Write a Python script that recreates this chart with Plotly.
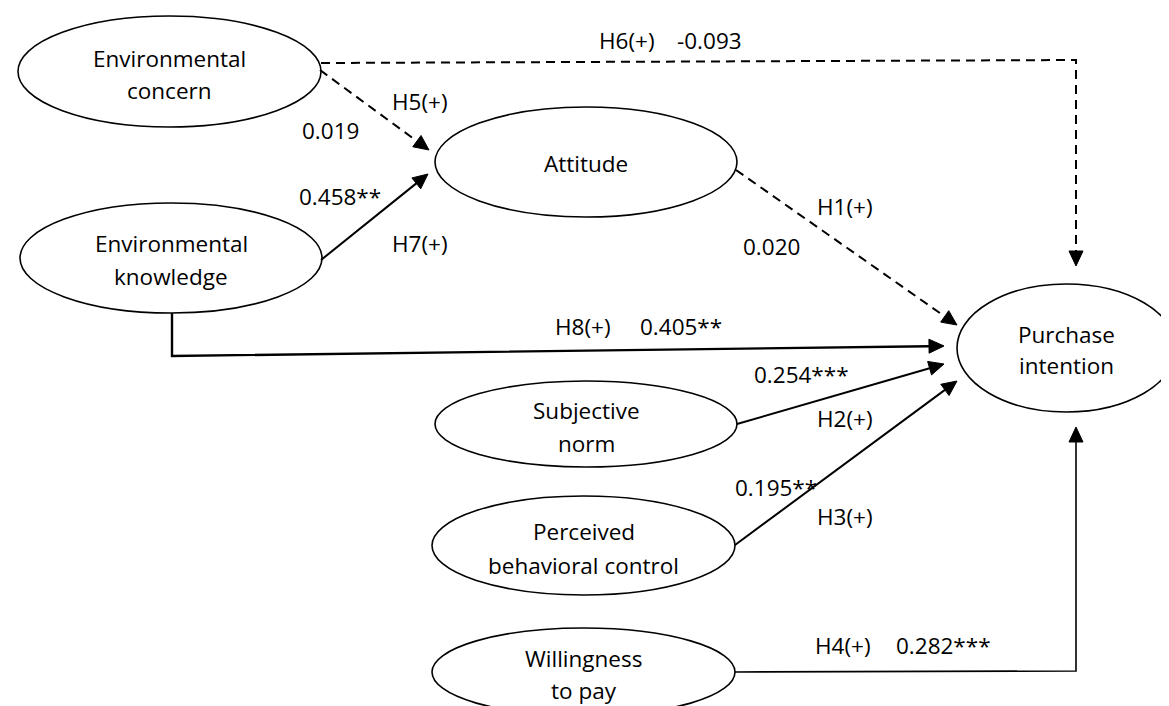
import math
import plotly.graph_objects as go

# ---------------- data ----------------
node_labels = [
    "Environmental\nconcern",
    "Attitude",
    "Environmental\nknowledge",
    "Purchase\nintention",
    "Subjective\nnorm",
    "Perceived\nbehavioral control",
    "Willingness\nto pay",
]
hypotheses = ["H1(+)", "H2(+)", "H3(+)", "H4(+)", "H5(+)", "H6(+)", "H7(+)", "H8(+)"]
coefficients = [0.020, 0.254, 0.195, 0.282, 0.019, -0.093, 0.458, 0.405]
significance = ["", "***", "**", "***", "", "", "**", "**"]

# ---------------- layout (pixel space, y downwards) ----------------
W, H = 1169, 706
node_boxes = [
    (10, 313, 8, 119),
    (427, 729, 99, 209),
    (12, 314, 195, 305),
    (949, 1168, 276, 404),
    (427, 729, 373, 459),
    (424, 727, 488, 587),
    (424, 727, 620, 708),
]
node_text_y = [(50, 82), (155,), (235, 268), (326, 357), (402, 435), (523, 557), (650, 682)]

edge_paths = [
    [(728, 162), (949, 317)],                 # H1
    [(729, 416), (936, 356)],                 # H2
    [(727, 537), (949, 373)],                 # H3
    [(727, 664), (1068, 663), (1068, 419)],   # H4
    [(312, 62), (421, 142)],                  # H5
    [(313, 55), (1068, 52), (1068, 258)],     # H6
    [(313, 252), (420, 166)],                 # H7
    [(164, 305), (164, 348), (936, 338)],     # H8
]
edge_width = [2, 2, 2, 1.6, 2, 2, 2, 2.4]
hyp_pos = [(837, 198), (837, 410), (837, 508), (835, 637), (412, 93), (619, 32), (412, 235), (575, 318)]
coef_pos = [(763, 238), (793, 366), (768, 479), (935, 637), (322, 122), (701, 32), (332, 188), (673, 318)]

FONT = dict(family="Open Sans, Noto Sans, sans-serif", size=22.5, color="black")

fig = go.Figure()
shapes = []
annotations = []

# ellipses
for (x0, x1, y0, y1), label, ys in zip(node_boxes, node_labels, node_text_y):
    shapes.append(dict(type="circle", xref="x", yref="y", x0=x0, x1=x1, y0=y0, y1=y1,
                       line=dict(color="black", width=1.6), fillcolor="rgba(0,0,0,0)"))
    cx = (x0 + x1) / 2
    for line_text, ty in zip(label.split("\n"), ys):
        annotations.append(dict(x=cx, y=ty, xref="x", yref="y", text=line_text, showarrow=False,
                                xanchor="center", yanchor="middle", font=FONT))

# edges (non-significant paths dashed)
ARROW_LEN, ARROW_HALF = 15, 7
for path, sig, w in zip(edge_paths, significance, edge_width):
    dashed = (sig == "")
    tip = path[-1]
    prev = path[-2]
    dx, dy = tip[0] - prev[0], tip[1] - prev[1]
    L = math.hypot(dx, dy)
    ux, uy = dx / L, dy / L
    base = (tip[0] - ux * ARROW_LEN, tip[1] - uy * ARROW_LEN)
    pts = list(path[:-1]) + [base]
    d = "M " + " L ".join(f"{x},{y}" for x, y in pts)
    shapes.append(dict(type="path", path=d, xref="x", yref="y",
                       line=dict(color="black", width=w, dash="9px,6px" if dashed else "solid")))
    px, py = -uy, ux
    tri = (f"M {tip[0]},{tip[1]} L {base[0] + px * ARROW_HALF},{base[1] + py * ARROW_HALF} "
           f"L {base[0] - px * ARROW_HALF},{base[1] - py * ARROW_HALF} Z")
    shapes.append(dict(type="path", path=tri, xref="x", yref="y",
                       line=dict(color="black", width=1), fillcolor="black"))

# labels
for h, c, s, hp, cp in zip(hypotheses, coefficients, significance, hyp_pos, coef_pos):
    annotations.append(dict(x=hp[0], y=hp[1], xref="x", yref="y", text=h, showarrow=False,
                            xanchor="center", yanchor="middle", font=FONT))
    annotations.append(dict(x=cp[0], y=cp[1], xref="x", yref="y", text=f"{c:.3f}{s}", showarrow=False,
                            xanchor="center", yanchor="middle", font=FONT))

fig.update_layout(
    width=W, height=H,
    margin=dict(l=0, r=0, t=0, b=0),
    paper_bgcolor="white", plot_bgcolor="white",
    xaxis=dict(range=[0, W], visible=False, fixedrange=True),
    yaxis=dict(range=[H, 0], visible=False, fixedrange=True),
    shapes=shapes, annotations=annotations, showlegend=False,
)
fig.write_html("out.html")
